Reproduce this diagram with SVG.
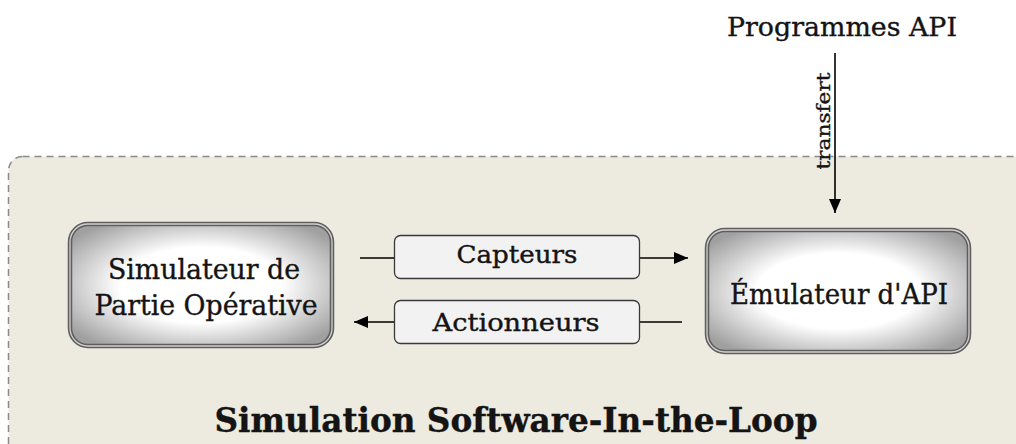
<svg xmlns="http://www.w3.org/2000/svg" width="1016" height="444" viewBox="0 0 1016 444">
<defs>
<radialGradient id="ng" cx="0.5" cy="0.5" r="0.62">
<stop offset="0" stop-color="#ffffff"/>
<stop offset="0.5" stop-color="#ffffff"/>
<stop offset="1" stop-color="#a0a0a0"/>
</radialGradient>
<marker id="ah" markerWidth="14" markerHeight="12" refX="14" refY="6" orient="auto" markerUnits="userSpaceOnUse" viewBox="0 0 14 12">
<path d="M0,0 L14,6 L0,12 z" fill="#000"/>
</marker>
<style>
.t{font-family:"DejaVu Serif Condensed","DejaVu Serif","Liberation Serif",serif;fill:#141414;stroke:#141414;stroke-width:0.35;}
.node-outer{fill:url(#ng);stroke:#5e5e5e;stroke-width:4.5;}
.node-inner{fill:none;stroke:#d0d0d0;stroke-width:1.3;}
.lab{fill:#f2f2f2;stroke:#3a3a3a;stroke-width:1.3;}
.ln{stroke:#000;stroke-width:1.6;fill:none;}
</style>
</defs>
<rect width="1016" height="444" fill="#ffffff"/>
<g id="container">
<rect x="8.5" y="156.5" width="1040" height="320" rx="14" fill="#edeae0" stroke="#8a8a8a" stroke-width="1.5" stroke-dasharray="7,5"/>
<text class="t" x="516" y="432" font-size="33" font-weight="bold" text-anchor="middle" textLength="603" lengthAdjust="spacingAndGlyphs">Simulation Software-In-the-Loop</text>
</g>
<g id="connectors">
<line class="ln" x1="360" y1="258" x2="688" y2="258" marker-end="url(#ah)"/>
<line class="ln" x1="682" y1="322" x2="354" y2="322" marker-end="url(#ah)"/>
<line class="ln" x1="835" y1="53" x2="835" y2="213" marker-end="url(#ah)"/>
<text class="t" x="0" y="0" font-size="19" text-anchor="middle" textLength="97" lengthAdjust="spacingAndGlyphs" transform="translate(830,121) rotate(-90)">transfert</text>
<g id="capteurs">
<rect class="lab" x="394.5" y="235.5" width="245" height="43" rx="6"/>
<text class="t" x="517" y="263" font-size="25" text-anchor="middle" textLength="121" lengthAdjust="spacingAndGlyphs">Capteurs</text>
</g>
<g id="actionneurs">
<rect class="lab" x="394.5" y="300.5" width="245" height="43" rx="6"/>
<text class="t" x="516" y="331" font-size="25" text-anchor="middle" textLength="167" lengthAdjust="spacingAndGlyphs">Actionneurs</text>
</g>
</g>
<g id="programmes">
<text class="t" x="842" y="36" font-size="26" text-anchor="middle" textLength="230" lengthAdjust="spacingAndGlyphs">Programmes API</text>
</g>
<g id="simulateur">
<rect class="node-outer" x="70" y="224" width="262" height="122" rx="18"/>
<rect class="node-inner" x="70" y="224" width="262" height="122" rx="18"/>
<text class="t" x="204" y="279" font-size="28" text-anchor="middle" textLength="192" lengthAdjust="spacingAndGlyphs">Simulateur de</text>
<text class="t" x="206" y="315" font-size="28" text-anchor="middle" textLength="223" lengthAdjust="spacingAndGlyphs">Partie Opérative</text>
</g>
<g id="emulateur">
<rect class="node-outer" x="707" y="230" width="262" height="122" rx="18"/>
<rect class="node-inner" x="707" y="230" width="262" height="122" rx="18"/>
<text class="t" x="839" y="304" font-size="28" text-anchor="middle" textLength="218" lengthAdjust="spacingAndGlyphs">Émulateur d'API</text>
</g>
</svg>
